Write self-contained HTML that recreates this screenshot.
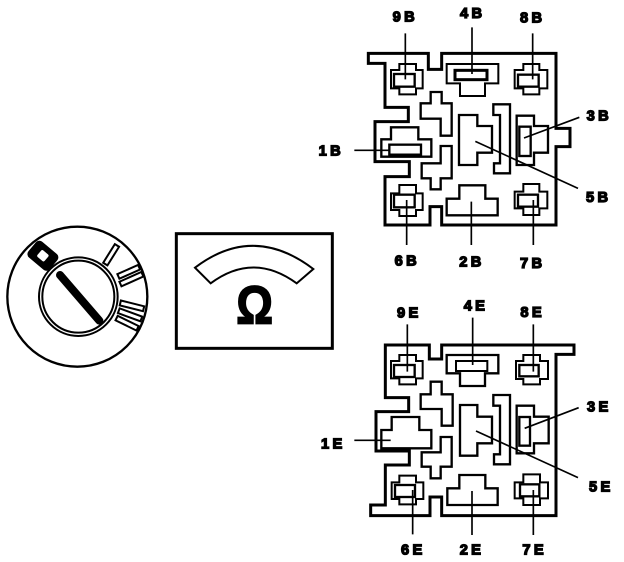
<!DOCTYPE html>
<html><head><meta charset="utf-8"><style>
html,body{margin:0;padding:0;background:#fff;width:624px;height:562px;overflow:hidden}
svg{display:block}
text{font-family:"Liberation Sans",sans-serif;font-weight:bold;font-size:44px;fill:#000;stroke:#000;stroke-width:4px;text-anchor:middle;letter-spacing:10px}
.o{fill:none;stroke:#000;stroke-width:9}
.m{fill:none;stroke:#000;stroke-width:7}
.t{fill:none;stroke:#000;stroke-width:6}
.l{fill:none;stroke:#000;stroke-width:5}
</style></head><body>
<svg width="624" height="562" viewBox="0 0 624 562" xmlns="http://www.w3.org/2000/svg">
<g transform="translate(0,220) scale(.33333)">
<circle class="m" cx="232" cy="230" r="210"/>
<circle class="t" cx="235" cy="230" r="118"/>
<circle class="t" cx="235" cy="230" r="108"/>
<line x1="180" y1="165" x2="298" y2="302" stroke="#000" stroke-width="24" stroke-linecap="round"/>
<g transform="rotate(40 128 108)"><rect x="86" y="76" width="84" height="62" rx="14" fill="#000"/><rect x="114" y="94" width="28" height="26" rx="5" fill="#fff"/></g>
<g fill="#fff" stroke="#000" stroke-width="6">
<rect x="300" y="97" width="66" height="15" transform="rotate(-58 333 104)"/>
<rect x="352" y="148" width="68" height="15" transform="rotate(-24 386 155)"/>
<rect x="358" y="170" width="72" height="15" transform="rotate(-24 394 177)"/>
<rect x="360" y="250" width="72" height="15" transform="rotate(14 396 257)"/>
<rect x="354" y="277" width="72" height="15" transform="rotate(20 390 285)"/>
<rect x="346" y="302" width="70" height="15" transform="rotate(26 381 310)"/>
</g>
<rect class="o" x="529" y="41" width="468" height="344"/>
<path class="t" d="M585 143Q760 10 940 147L890 190Q760 95 632 190Z" fill="#fff"/>
<text transform="translate(764,310) scale(.86,1)" style="font-size:160px;letter-spacing:0;stroke-width:5px">Ω</text>
</g>

<g transform="translate(310,0) scale(.33333)">
<path class="o" d="M175 160H355V208H395V160H738V385H780V440H738V675H395V620H360V675H225V530H298V485H195V365H295V322H225V190H175Z"/>
<path class="t" d="M243 210H268V192H318V210H338V265H318V283H268V265H243Z"/>
<rect class="m" x="252" y="222" width="62" height="38"/>
<path class="t" d="M410 192H565V250H525V288H450V250H410Z"/>
<rect class="o" x="435" y="211" width="96" height="28"/>
<path class="t" d="M614 210H640V192H688V210H712V265H688V283H640V265H614Z"/>
<rect class="m" x="624" y="224" width="62" height="36"/>
<path class="m" d="M332 310H362V276H395V310H425V407H392V356H332Z"/>
<path class="m" d="M447 345H502V378H546V458H502V495H447Z"/>
<path class="m" d="M550 313H600V520H552V490H570V345H550Z"/>
<path class="m" d="M620 347H672V378H714V458H672V495H620Z"/>
<rect class="m" x="628" y="380" width="34" height="88"/>
<path class="m" d="M214 418H243V382H325V418H364V470H214Z"/>
<rect class="m" x="238" y="434" width="95" height="30"/>
<path class="m" d="M392 438H425V535H392V568H362V535H335V490H392Z"/>
<path class="t" d="M243 580H268V555H318V580H338V630H318V648H268V630H243Z"/>
<rect class="m" x="252" y="584" width="62" height="38"/>
<path class="m" d="M410 596H448V556H526V596H563V646H410Z"/>
<path class="t" d="M614 575H640V552H688V575H712V625H688V645H640V625H614Z"/>
<rect class="m" x="624" y="584" width="60" height="36"/>
<path class="l" d="M286 100V238M486 82V222M668 100V238M133 451H238M808 352L642 414M804 565L496 424M290 600V735M484 605V735M670 600V735"/>
<text x="286" y="65">9B</text><text x="488" y="54">4B</text><text x="668" y="68">8B</text>
<text x="868" y="362">3B</text><text x="64" y="466">1B</text><text x="866" y="606">5B</text>
<text x="292" y="796">6B</text><text x="486" y="800">2B</text><text x="668" y="804">7B</text>
</g>

<g transform="translate(310,285) scale(.33333)">
<path class="o" d="M226 180H358V222H395V180H792V208H738V692H395V636H360V692H182V660H226V540H298V498H198V380H296V338H226Z"/>
<path class="t" d="M243 228H268V210H318V228H338V280H318V298H268V280H243Z"/>
<rect class="m" x="252" y="240" width="62" height="36"/>
<path class="m" d="M410 210H565V265H525V303H450V265H410Z"/>
<rect class="t" x="438" y="228" width="94" height="30"/>
<path class="t" d="M618 228H640V210H690V228H714V282H690V298H640V282H618Z"/>
<rect class="m" x="628" y="240" width="58" height="34"/>
<path class="m" d="M332 328H362V290H395V328H428V422H395V372H332Z"/>
<path class="m" d="M450 360H502V395H546V475H502V512H450Z"/>
<path class="m" d="M550 330H600V538H552V508H570V362H550Z"/>
<path class="m" d="M620 362H672V395H716V475H672V505H620Z"/>
<rect class="m" x="628" y="396" width="32" height="86"/>
<path class="m" d="M214 435H245V396H328V435H364V490H214Z"/>
<path class="m" d="M392 456H425V545H392V580H362V545H335V502H392Z"/>
<path class="t" d="M245 592H268V572H318V592H340V642H318V658H268V642H245Z"/>
<rect class="m" x="255" y="600" width="60" height="36"/>
<path class="m" d="M412 610H448V570H526V610H563V660H412Z"/>
<path class="t" d="M614 592H640V568H690V592H714V640H690V660H640V640H614Z"/>
<rect class="m" x="630" y="598" width="58" height="36"/>
<path class="l" d="M292 118V260M488 98V240M670 118V260M133 466H242M806 368L644 430M804 578L498 438M308 615V748M486 618V750M670 615V750"/>
<text x="298" y="98">9E</text><text x="498" y="76">4E</text><text x="668" y="96">8E</text>
<text x="868" y="380">3E</text><text x="70" y="491">1E</text><text x="874" y="620">5E</text>
<text x="310" y="808">6E</text><text x="486" y="808">2E</text><text x="674" y="808">7E</text>
</g>
</svg>
</body></html>
